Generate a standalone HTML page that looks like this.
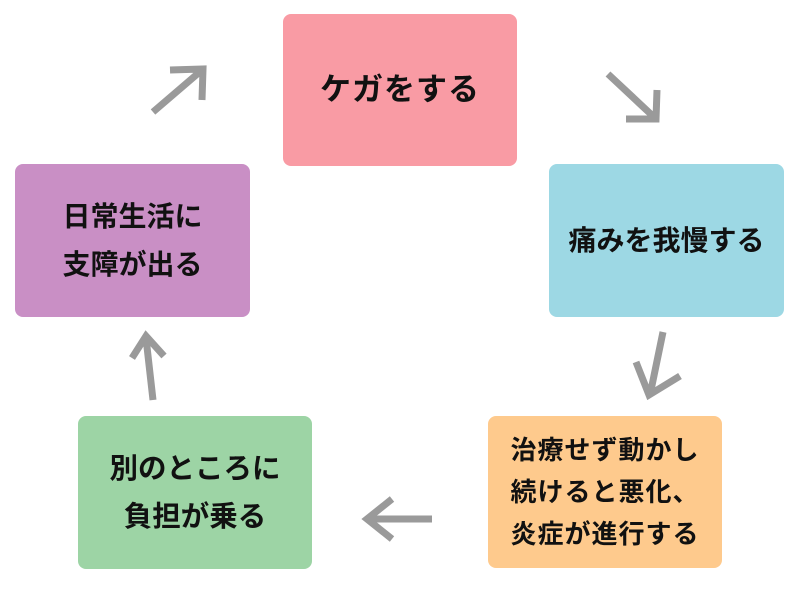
<!DOCTYPE html>
<html><head><meta charset="utf-8"><style>
body{margin:0;width:800px;height:600px;background:#fff;position:relative;overflow:hidden;font-family:"Liberation Sans","Noto Sans CJK JP",sans-serif;font-weight:bold;color:#111}
.b{position:absolute;border-radius:8px;display:flex;align-items:center;justify-content:center;text-align:center;line-height:1.5}
</style></head><body>
<svg width="800" height="600" style="position:absolute;left:0;top:0" fill="none" stroke="#9a9a9a" stroke-width="7" stroke-linecap="butt" stroke-linejoin="miter">
<path d="M153 112 L202 70 M170 70 L203 69 L202 100"/>
<path d="M608 74 L655 118 M657 90 L656 119 L626 119"/>
<path d="M663 332 L650 395 M636 362 L649 395 L680 376"/>
<path d="M432 519 L368 519 M392 499 L367 519 L392 539"/>
<path d="M153 400 L146 338 M132 358 L146 336 L164 356"/>
</svg>
<div class="b" style="left:283px;top:14px;width:234px;height:152px;background:#F99BA4;font-size:31px;letter-spacing:1px">ケガをする</div>
<div class="b" style="left:549px;top:164px;width:235px;height:153px;background:#9DD8E4;font-size:28px">痛みを我慢する</div>
<div class="b" style="left:488px;top:416px;width:234px;height:152px;background:#FECA8D;font-size:26px;line-height:42px;letter-spacing:1px">治療せず動かし<br>続けると悪化、<br>炎症が進行する</div>
<div class="b" style="left:78px;top:416px;width:234px;height:153px;background:#9DD4A5;font-size:28.5px;line-height:48px">別のところに<br>負担が乗る</div>
<div class="b" style="left:15px;top:164px;width:235px;height:153px;background:#C98FC5;font-size:28px;line-height:48px">日常生活に<br>支障が出る</div>
</body></html>
